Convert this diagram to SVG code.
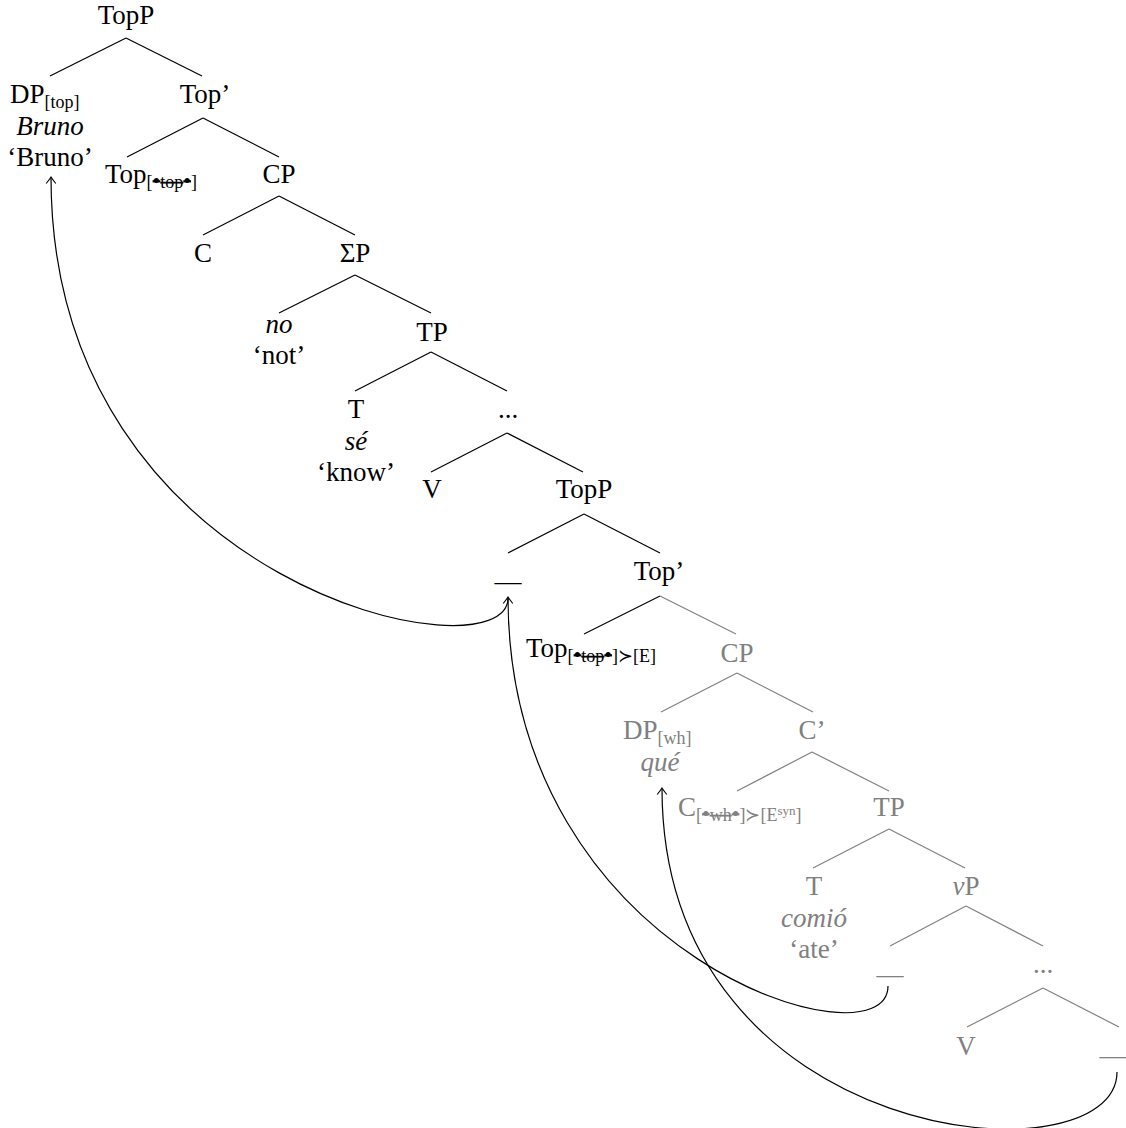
<svg xmlns="http://www.w3.org/2000/svg" width="1126" height="1128" viewBox="0 0 1126 1128">
<style>
text { font-family: "Liberation Serif", "DejaVu Serif", serif; font-size: 27px; fill: #000; }
.c { text-anchor: middle; }
.i { font-style: italic; }
.sub { font-size: 18px; }
.bu { font-size: 22px; }
.st { text-decoration: line-through; }
.g text, text.g { fill: #808080; }
.br { stroke: #000; stroke-width: 1.2; fill: none; }
.gl { stroke: #808080; stroke-width: 1.2; fill: none; }
.mv { stroke: #000; stroke-width: 1.2; fill: none; marker-end: url(#ah); }
</style>
<defs>
<marker id="ah" viewBox="-8 -6 10 12" refX="0" refY="0" markerWidth="10" markerHeight="12" markerUnits="userSpaceOnUse" orient="auto">
<path d="M -6.5 -4.8 Q -2 -1.2 0 0 Q -2 1.2 -6.5 4.8" fill="none" stroke="#000" stroke-width="1.1"/>
</marker>
</defs>
<rect width="1126" height="1128" fill="#fff"/>
<g id="connectors">
<path class="br" d="M126 38L50 76M126 38L202 76"/>
<path class="br" d="M203 118L127 157M203 118L279 157"/>
<path class="br" d="M279 196L203 235M279 196L355 235"/>
<path class="br" d="M355 275L279 313M355 275L431 313"/>
<path class="br" d="M431 352L355 391M431 352L507 391"/>
<path class="br" d="M507 433L431 472M507 433L583 472"/>
<path class="br" d="M584 514L508 553M584 514L660 553"/>
<path class="br" d="M660 596L584 634"/>
<path class="gl" d="M660 596L736 634"/>
<path class="gl" d="M737 673L661 712M737 673L813 712"/>
<path class="gl" d="M812 752L737 791M812 752L889 791"/>
<path class="gl" d="M889 829L813 868M889 829L965 868"/>
<path class="gl" d="M966 906L890 946M966 906L1043 946"/>
<path class="gl" d="M1043 988L967 1027M1043 988L1119 1027"/>
<path class="mv" d="M508 598C508 680 51 590 51 177"/>
<path class="mv" d="M888 986C888 1070 508 960 508 597"/>
<path class="mv" d="M1117 1072C1117 1185 662 1150 662 788"/>
</g>
<g id="n-topp"><text class="c" x="126" y="24">TopP</text></g>
<g id="n-dp-top">
<text x="10" y="103">DP<tspan class="sub" dy="5">[top]</tspan></text>
<text class="c i" x="50" y="135">Bruno</text>
<text class="c" x="50" y="166">‘Bruno’</text>
</g>
<g id="n-topbar"><text class="c" x="205" y="103">Top’</text></g>
<g id="n-top-head"><text x="105" y="183">Top<tspan class="sub" dy="5">[<tspan class="st"><tspan class="bu">•</tspan>top<tspan class="bu">•</tspan></tspan>]</tspan></text></g>
<g id="n-cp"><text class="c" x="279" y="183">CP</text></g>
<g id="n-c"><text class="c" x="203" y="262">C</text></g>
<g id="n-sigmap"><text class="c" x="355" y="262">ΣP</text></g>
<g id="n-no">
<text class="c i" x="279" y="333">no</text>
<text class="c" x="279" y="364">‘not’</text>
</g>
<g id="n-tp"><text class="c" x="432" y="341">TP</text></g>
<g id="n-t">
<text class="c" x="356" y="418">T</text>
<text class="c i" x="356" y="450">sé</text>
<text class="c" x="356" y="481">‘know’</text>
</g>
<g id="n-dots"><text class="c" x="508" y="418">...</text></g>
<g id="n-v"><text class="c" x="432" y="498">V</text></g>
<g id="n-topp2"><text class="c" x="584" y="498">TopP</text></g>
<g id="n-gap1"><text class="c" x="508" y="590">—</text></g>
<g id="n-topbar2"><text class="c" x="659" y="580">Top’</text></g>
<g id="n-top-head2"><text x="526" y="657">Top<tspan class="sub" dy="5">[<tspan class="st"><tspan class="bu">•</tspan>top<tspan class="bu">•</tspan></tspan>]≻[E]</tspan></text></g>
<g class="g">
<g id="n-cp2"><text class="c" x="737" y="662">CP</text></g>
<g id="n-dp-wh">
<text x="623" y="739">DP<tspan class="sub" dy="5">[wh]</tspan></text>
<text class="c i" x="660" y="771">qué</text>
</g>
<g id="n-cbar"><text class="c" x="812" y="739">C’</text></g>
<g id="n-c-head"><text x="678" y="816">C<tspan class="sub" dy="5">[<tspan class="st"><tspan class="bu">•</tspan>wh<tspan class="bu">•</tspan></tspan>]≻[E<tspan font-size="13" dy="-6">syn</tspan><tspan dy="6">]</tspan></tspan></text></g>
<g id="n-tp2"><text class="c" x="889" y="816">TP</text></g>
<g id="n-t2">
<text class="c" x="814" y="895">T</text>
<text class="c i" x="814" y="927">comió</text>
<text class="c" x="814" y="958">‘ate’</text>
</g>
<g id="n-vp"><text class="c" x="966" y="895"><tspan class="i">v</tspan>P</text></g>
<g id="n-gap2"><text class="c" x="890" y="983">—</text></g>
<g id="n-dots2"><text class="c" x="1043" y="973">...</text></g>
<g id="n-v2"><text class="c" x="966" y="1055">V</text></g>
<g id="n-gap3"><text class="c" x="1113" y="1064">—</text></g>
</g>
</svg>
